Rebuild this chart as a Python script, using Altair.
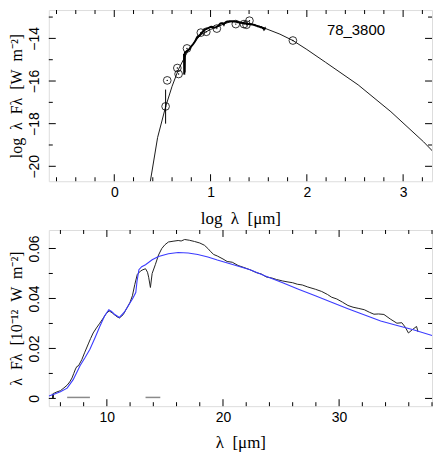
import altair as alt
import pandas as pd
import numpy as np

# ---------------- data: top panel (log-log SED) ----------------
sed_logl = [0.36, 0.45, 0.533, 0.60, 0.668, 0.72, 0.77, 0.84, 0.905, 1.0, 1.075, 1.15,
            1.21, 1.30, 1.414, 1.50, 1.55, 1.72, 1.855, 2.0, 2.194, 2.533, 2.873, 3.212, 3.33]
sed_logf = [-21.1, -18.65, -17.21, -16.25, -15.44, -14.98, -14.55, -14.13, -13.81, -13.58, -13.45, -13.30,
            -13.22, -13.23, -13.32, -13.42, -13.50, -13.80, -14.10, -14.52, -15.12, -16.18, -17.44, -18.85, -19.4]

phot_logl = [0.533, 0.55, 0.655, 0.668, 0.755, 0.899, 0.956, 1.065, 1.262, 1.347, 1.373, 1.404, 1.855]
phot_logf = [-17.19, -15.97, -15.39, -15.67, -14.47, -13.73, -13.69, -13.54, -13.33, -13.33, -13.36, -13.17, -14.10]

err_logl = [0.533]
err_lo = [-18.0]
err_hi = [-16.4]

label_text = ["78_3800"]
label_x = [2.51]
label_y = [-13.6]

# ---------------- data: bottom panel (linear spectrum) ----------------
spec_lam = [5.30, 5.33, 5.36, 5.39, 5.42, 5.5, 5.7, 6.0, 6.3, 6.58, 6.8, 7.0, 7.14, 7.3, 7.42, 7.55,
            7.84, 8.1, 8.4, 8.6, 8.82, 9.1, 9.39, 9.7, 9.95, 10.2, 10.45, 10.65, 10.9, 11.08, 11.4,
            11.78, 12.0, 12.2, 12.4, 12.62, 12.9, 13.1, 13.33, 13.5, 13.6, 13.75, 13.9, 14.17, 14.45,
            14.73, 15.0, 15.3, 15.7, 16.14, 16.4, 16.7, 17.1, 17.55, 18.0, 18.4, 18.7, 18.95, 19.2,
            19.51, 20.0, 20.36, 20.8, 21.3, 21.8, 22.33, 22.9, 23.3, 23.73, 24.2, 24.6, 25.14, 25.6,
            26.0, 26.4, 26.83, 27.3, 27.95, 28.5, 29.0, 29.36, 29.8, 30.3, 30.76, 31.2, 31.7, 32.17,
            32.6, 33.0, 33.4, 33.86, 34.4, 34.98, 35.4, 35.7, 35.97, 36.3, 36.67, 36.8]
spec_f = [0.0019, 0.0002, 0.0016, 0.00025, 0.0021, 0.0022, 0.0026, 0.0031, 0.0042, 0.0053, 0.0066,
          0.0082, 0.0099, 0.0118, 0.0128, 0.0130, 0.0155, 0.0185, 0.0218, 0.0240, 0.0262, 0.0282,
          0.0301, 0.0322, 0.0340, 0.0350, 0.0343, 0.0335, 0.0326, 0.0322, 0.0335, 0.0366, 0.0385,
          0.0411, 0.0455, 0.0496, 0.0510, 0.0515, 0.0519, 0.0505, 0.0485, 0.0444, 0.0500, 0.0535,
          0.0574, 0.0600, 0.0615, 0.0626, 0.0629, 0.0632, 0.0630, 0.0636, 0.0633, 0.0628, 0.0622,
          0.0613, 0.0600, 0.0587, 0.0576, 0.0570, 0.0558, 0.0548, 0.0545, 0.0532, 0.0524, 0.0515,
          0.0503, 0.0498, 0.0486, 0.0482, 0.0476, 0.0470, 0.0466, 0.0463, 0.0457, 0.0454, 0.0446,
          0.0437, 0.0428, 0.0416, 0.0405, 0.0398, 0.0385, 0.0372, 0.0365, 0.0360, 0.0355, 0.0345,
          0.0337, 0.0338, 0.0336, 0.0318, 0.0301, 0.0303, 0.0285, 0.0262, 0.0275, 0.0288, 0.0266]

mod_lam = [5.0, 5.5, 6.0, 6.58, 7.1, 7.7, 8.1, 8.54, 9.0, 9.39, 9.8, 10.17, 10.4, 10.65, 11.08,
           11.5, 12.2, 12.49, 12.6, 12.76, 13.0, 13.33, 13.9, 14.45, 15.3, 16.14, 17.0, 17.83,
           18.7, 19.51, 20.9, 22.33, 23.7, 25.14, 26.5, 27.95, 29.35, 30.76, 32.2, 33.58, 35.0,
           36.39, 38.08]
mod_f = [0.0010, 0.0018, 0.0027, 0.0041, 0.0075, 0.0132, 0.0162, 0.0197, 0.0245, 0.0288, 0.0330,
         0.0355, 0.0348, 0.0337, 0.0324, 0.0345, 0.0398, 0.0424, 0.0470, 0.0515, 0.0527, 0.0535,
         0.0555, 0.0568, 0.0579, 0.0584, 0.0582, 0.0576, 0.0566, 0.0554, 0.0535, 0.0515, 0.0489,
         0.0463, 0.0437, 0.0411, 0.0385, 0.0359, 0.0334, 0.0310, 0.0292, 0.0275, 0.0251]

dash_start = [6.58, 13.33]
dash_end = [8.54, 14.6]
dash_f = [0.0004, 0.0004]

# tick values
top_x_major = [0, 1, 2, 3]
top_x_minor = [-0.6, -0.4, -0.2, 0.2, 0.4, 0.6, 0.8, 1.2, 1.4, 1.6, 1.8, 2.2, 2.4, 2.6, 2.8, 3.2]
top_y_major = [-20, -18, -16, -14]
top_y_minor = [-19, -17, -15, -13]
bot_x_major = [10, 20, 30]
bot_x_minor = [6, 8, 12, 14, 16, 18, 22, 24, 26, 28, 32, 34, 36, 38]
bot_y_major = [0, 0.02, 0.04, 0.06]
bot_y_minor = [0.01, 0.03, 0.05]

# ---------------- styling ----------------
W = 385
H1 = 172
H2 = 177
SERIF = "Liberation Serif"
SANS = "Liberation Sans"
MAJ, MIN = 7, 4
SP = "\u00a0\u00a0"


def make_axes(xtitle, ytitle, xvals, yvals, yfmt):
    xa = alt.Axis(title=xtitle, values=xvals, ticks=False, domain=False, grid=False,
                  labelFont=SANS, labelFontSize=14, labelColor="black", labelPadding=4,
                  labelFlush=False, titleFont=SERIF, titleFontSize=17, titleFontWeight="normal",
                  titleColor="black", titlePadding=11, format="d")
    ya = alt.Axis(title=ytitle, values=yvals, ticks=False, domain=False, grid=False,
                  labelFont=SANS, labelFontSize=14, labelColor="black", labelPadding=7,
                  labelAngle=-90, labelAlign="center", labelBaseline="bottom", labelFlush=False,
                  titleFont=SERIF, titleFontSize=16, titleFontWeight="normal", titleColor="black",
                  titlePadding=3, format=yfmt)
    return xa, ya


def tick_layers(xs, ys, xa, ya, xmaj, xmin, ymaj, ymin, H):
    layers = []
    for vals, L in [(xmaj, MAJ), (xmin, MIN)]:
        base = alt.Chart(pd.DataFrame({"v": vals})).mark_rule(color="black", strokeWidth=1)
        xe = alt.X("v:Q", scale=xs, axis=xa)
        layers.append(base.encode(x=xe, y=alt.value(H), y2=alt.value(H - L)))
        layers.append(base.encode(x=xe, y=alt.value(0), y2=alt.value(L)))
    for vals, L in [(ymaj, MAJ), (ymin, MIN)]:
        base = alt.Chart(pd.DataFrame({"v": vals})).mark_rule(color="black", strokeWidth=1)
        ye = alt.Y("v:Q", scale=ys, axis=ya)
        layers.append(base.encode(y=ye, x=alt.value(0), x2=alt.value(L)))
        layers.append(base.encode(y=ye, x=alt.value(W), x2=alt.value(W - L)))
    return layers


# ---------------- top panel ----------------
xs1 = alt.Scale(domain=[-0.68, 3.3], nice=False, zero=False)
ys1 = alt.Scale(domain=[-20.7, -12.67], nice=False, zero=False)
xa1, ya1 = make_axes(f"log{SP}λ{SP}[μm]", f"log{SP}λ{SP}Fλ{SP}[W{SP}m⁻²]",
                     top_x_major, top_y_major, "d")

sed_df = pd.DataFrame({"x": sed_logl, "y": sed_logf})
phot_df = pd.DataFrame({"x": phot_logl, "y": phot_logf})
err_df = pd.DataFrame({"x": err_logl, "lo": err_lo, "hi": err_hi})
spec_df = pd.DataFrame({"lam": spec_lam, "f": spec_f})
spec_log_df = pd.DataFrame({"x": np.log10(spec_df["lam"]), "y": np.log10(spec_df["f"]) - 12})
lab_df = pd.DataFrame({"x": label_x, "y": label_y, "t": label_text})

X1 = lambda f: alt.X(f, scale=xs1, axis=xa1)
Y1 = lambda f: alt.Y(f, scale=ys1, axis=ya1)

top_layers = [
    alt.Chart(sed_df).mark_line(color="black", strokeWidth=0.9, clip=True).encode(
        x=X1("x:Q"), y=Y1("y:Q"), order="x:Q"),
    alt.Chart(spec_log_df.reset_index()).mark_line(color="black", strokeWidth=2.0, clip=True).encode(
        x=X1("x:Q"), y=Y1("y:Q"), order="index:Q"),
    alt.Chart(err_df).mark_rule(color="black", strokeWidth=1).encode(
        x=X1("x:Q"), y=Y1("lo:Q"), y2="hi:Q"),
    alt.Chart(phot_df).mark_point(shape="circle", filled=False, color="black", size=60,
                                  strokeWidth=0.8, opacity=1).encode(x=X1("x:Q"), y=Y1("y:Q")),
    alt.Chart(phot_df).mark_point(shape="circle", filled=True, color="black", size=2,
                                  opacity=1).encode(x=X1("x:Q"), y=Y1("y:Q")),
    alt.Chart(lab_df).mark_text(font=SANS, fontSize=15, color="black", align="center",
                                baseline="middle").encode(x=X1("x:Q"), y=Y1("y:Q"), text="t:N"),
] + tick_layers(xs1, ys1, xa1, ya1, top_x_major, top_x_minor, top_y_major, top_y_minor, H1)

top = alt.layer(*top_layers).properties(width=W, height=H1)

# ---------------- bottom panel ----------------
xs2 = alt.Scale(domain=[5, 38], nice=False, zero=False)
ys2 = alt.Scale(domain=[-0.0031, 0.0674], nice=False, zero=False)
xa2, ya2 = make_axes(f"λ{SP}[μm]", f"λ{SP}Fλ{SP}[10⁻¹²{SP}W{SP}m⁻²]",
                     bot_x_major, bot_y_major, "~g")

mod_df = pd.DataFrame({"lam": mod_lam, "f": mod_f})
dash_df = pd.DataFrame({"a": dash_start, "b": dash_end, "f": dash_f})

X2 = lambda f: alt.X(f, scale=xs2, axis=xa2)
Y2 = lambda f: alt.Y(f, scale=ys2, axis=ya2)

bot_layers = [
    alt.Chart(dash_df).mark_rule(color="#8a8a8a", strokeWidth=1.5).encode(
        x=X2("a:Q"), x2="b:Q", y=Y2("f:Q")),
    alt.Chart(spec_df.reset_index()).mark_line(color="#222222", strokeWidth=1, clip=True).encode(
        x=X2("lam:Q"), y=Y2("f:Q"), order="index:Q"),
    alt.Chart(mod_df).mark_line(color="#3b3bff", strokeWidth=1.1, clip=True).encode(
        x=X2("lam:Q"), y=Y2("f:Q"), order="lam:Q"),
] + tick_layers(xs2, ys2, xa2, ya2, bot_x_major, bot_x_minor, bot_y_major, bot_y_minor, H2)

bot = alt.layer(*bot_layers).properties(width=W, height=H2)

chart = alt.vconcat(top, bot, spacing=2).properties(
    padding={"left": 0, "top": 0, "right": 0, "bottom": 0}
).configure_view(stroke="black", strokeWidth=1).configure(background="white")

chart.save("out.html", embed_options={"renderer": "svg", "actions": False})
